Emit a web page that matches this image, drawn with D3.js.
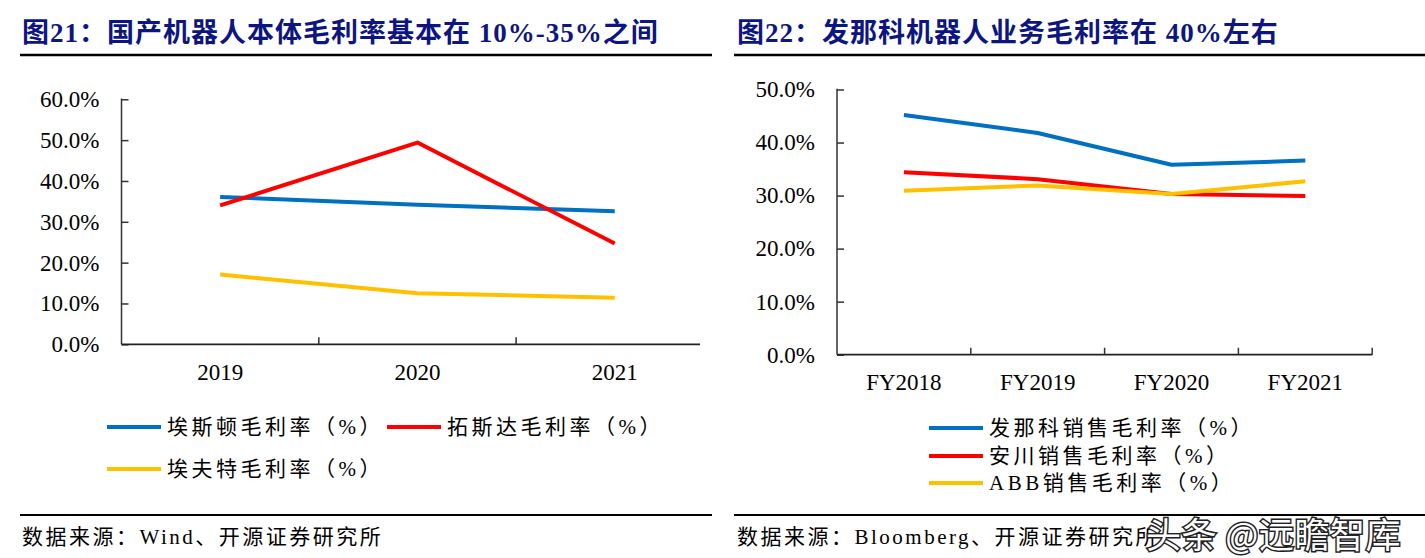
<!DOCTYPE html>
<html><head><meta charset="utf-8">
<script src="https://cdn.jsdelivr.net/npm/d3@7"></script>
<style>
html,body{margin:0;padding:0;background:#fff;}
svg{display:block;font-family:"Liberation Serif","Noto Sans CJK SC",serif;}
</style></head>
<body><svg id="c" width="1425" height="558"></svg>
<script>
// ---------- data ----------
const leftCategories = ["2019","2020","2021"];
const leftSeriesNames = ["埃斯顿毛利率（%）","拓斯达毛利率（%）","埃夫特毛利率（%）"];
const leftEstun = [36.1, 34.2, 32.6];
const leftTopstar = [34.0, 49.4, 24.7];
const leftEfort = [17.1, 12.5, 11.4];
const leftYTicks = [0,10,20,30,40,50,60];

const rightCategories = ["FY2018","FY2019","FY2020","FY2021"];
const rightSeriesNames = ["发那科销售毛利率（%）","安川销售毛利率（%）","ABB销售毛利率（%）"];
const rightFanuc = [45.2, 41.8, 35.8, 36.6];
const rightYaskawa = [34.4, 33.1, 30.3, 29.9];
const rightABB = [30.9, 31.9, 30.3, 32.7];
const rightYTicks = [0,10,20,30,40,50];

const colors = ["#0070C0","#FF0000","#FFC000"];
const titleLeft = "图21：国产机器人本体毛利率基本在 10%-35%之间";
const titleRight = "图22：发那科机器人业务毛利率在 40%左右";
const sourceLeft = "数据来源：Wind、开源证券研究所";
const sourceRight = "数据来源：Bloomberg、开源证券研究所";

const svg = d3.select("#c");
const fmt = d => d.toFixed(1) + "%";

function panel(o){
  const g = svg.append("g");
  // title
  g.append("text").attr("x", o.titleX).attr("y", 42)
    .attr("fill", "#0d1580").attr("font-size", 27).attr("font-weight", "bold")
    .attr("letter-spacing", 1)
    .attr("font-family", "'Liberation Serif','Noto Sans CJK SC',serif")
    .text(o.title);
  g.append("line").attr("x1", o.ruleX1).attr("x2", o.ruleX2).attr("y1", 55).attr("y2", 55)
    .attr("stroke", "#000").attr("stroke-width", 2.5);

  const x = d3.scaleBand().domain(o.cats).range([o.x0, o.x0 + o.step * o.cats.length]).padding(0);
  const y = d3.scaleLinear().domain([0, d3.max(o.yTicks)]).range([o.y0, o.y1]);

  // y axis
  const ya = g.append("g").attr("transform", `translate(${o.x0},0)`)
    .call(d3.axisLeft(y).tickValues(o.yTicks).tickFormat(fmt).tickSize(-7).tickPadding(22));
  ya.select(".domain").remove();
  ya.selectAll(".tick line").attr("stroke", "#333").attr("stroke-width", 1.5);
  ya.selectAll(".tick text").attr("font-size", 23).attr("fill", "#000")
    .attr("font-family", "'Liberation Serif',serif");
  g.append("line").attr("x1", o.x0).attr("x2", o.x0).attr("y1", y(d3.max(o.yTicks)) - 0.75).attr("y2", o.y0)
    .attr("stroke", "#333").attr("stroke-width", 1.5);

  // x axis
  g.append("line").attr("x1", o.x0).attr("x2", o.axisEnd).attr("y1", o.y0).attr("y2", o.y0)
    .attr("stroke", "#222").attr("stroke-width", 1.8);
  o.cats.forEach(c => {
    const bx = x(c) + x.bandwidth();
    if (bx <= o.axisEnd + 0.5) {
      g.append("line").attr("x1", bx).attr("x2", bx).attr("y1", o.y0).attr("y2", o.y0 - 7)
        .attr("stroke", "#333").attr("stroke-width", 1.5);
    }
  });
  g.selectAll("text.xl").data(o.cats).join("text").attr("class", "xl")
    .attr("x", d => x(d) + x.bandwidth() / 2).attr("y", o.xLabelY)
    .attr("text-anchor", "middle").attr("font-size", 23).attr("fill", "#000")
    .attr("font-family", "'Liberation Serif',serif")
    .text(d => d);

  // lines
  const line = d3.line().x((d, i) => x(o.cats[i]) + x.bandwidth() / 2).y(d => y(d));
  o.series.forEach((s, i) => {
    g.append("path").datum(s).attr("d", line).attr("fill", "none")
      .attr("stroke", colors[i]).attr("stroke-width", 4).attr("stroke-linejoin", "round");
  });

  // legend
  o.legend.forEach((L, i) => {
    g.append("line").attr("x1", L.x).attr("x2", L.x + 54).attr("y1", L.y).attr("y2", L.y)
      .attr("stroke", colors[i]).attr("stroke-width", 4);
    g.append("text").attr("x", L.x + 60).attr("y", L.y).attr("dy", "0.35em")
      .attr("font-size", 21).attr("fill", "#000").attr("letter-spacing", 3.5)
      .text(o.names[i]);
  });

  // source
  g.append("line").attr("x1", o.ruleX1).attr("x2", o.srcRuleX2).attr("y1", 515).attr("y2", 515)
    .attr("stroke", "#000").attr("stroke-width", 2.2);
  g.append("text").attr("x", o.titleX).attr("y", 544).attr("font-size", 21).attr("fill", "#000")
    .attr("letter-spacing", 2.5).text(o.source);
}

panel({
  title: titleLeft, titleX: 22, ruleX1: 20, ruleX2: 712, srcRuleX2: 712,
  cats: leftCategories, x0: 121.5, step: 197.3, axisEnd: 700,
  yTicks: leftYTicks, y0: 344.3, y1: 99.3, xLabelY: 380,
  series: [leftEstun, leftTopstar, leftEfort], names: leftSeriesNames,
  legend: [{x:107, y:427}, {x:387, y:427}, {x:107, y:469}],
  source: sourceLeft
});
panel({
  title: titleRight, titleX: 737, ruleX1: 734, ruleX2: 1425, srcRuleX2: 1425,
  cats: rightCategories, x0: 837, step: 133.8, axisEnd: 1372.2,
  yTicks: rightYTicks, y0: 354.7, y1: 89.5, xLabelY: 390,
  series: [rightFanuc, rightYaskawa, rightABB], names: rightSeriesNames,
  legend: [{x:929, y:428}, {x:929, y:456}, {x:929, y:483}],
  source: sourceRight
});

// watermark
svg.append("text").attr("x", 1146).attr("y", 548)
  .attr("font-family", "'Noto Sans CJK SC',sans-serif").attr("font-size", 35)
  .attr("letter-spacing", 0.5)
  .attr("fill", "#fff").attr("stroke", "#222").attr("stroke-width", 3).attr("paint-order", "stroke")
  .text("头条 @远瞻智库");
</script></body></html>
